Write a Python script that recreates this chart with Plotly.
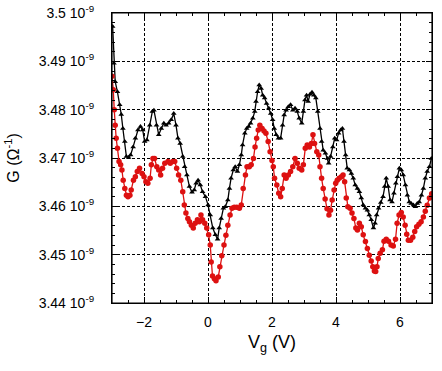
import plotly.graph_objects as go

v_black = [-2.98, -2.94, -2.90, -2.83, -2.76, -2.71, -2.66, -2.60, -2.55, -2.48,
           -2.42, -2.34, -2.27, -2.19, -2.11, -2.04, -1.98, -1.91, -1.82, -1.74,
           -1.69, -1.61, -1.54, -1.46, -1.38, -1.31, -1.23, -1.15, -1.07, -1.00,
           -0.94, -0.87, -0.79, -0.73, -0.66, -0.58, -0.50, -0.43, -0.37, -0.31,
           -0.24, -0.17, -0.08, 0.00, 0.07, 0.15, 0.23, 0.30, 0.35, 0.41,
           0.48, 0.54, 0.62, 0.67, 0.72, 0.79, 0.85, 0.92, 0.98, 1.04,
           1.08, 1.15, 1.21, 1.27, 1.33, 1.40, 1.46, 1.50, 1.55, 1.60,
           1.66, 1.71, 1.77, 1.83, 1.90, 1.96, 2.02, 2.07, 2.13, 2.20,
           2.27, 2.33, 2.38, 2.44, 2.51, 2.58, 2.65, 2.72, 2.79, 2.85,
           2.93, 2.98, 3.03, 3.08, 3.13, 3.19, 3.25, 3.31, 3.37, 3.43,
           3.50, 3.55, 3.60, 3.67, 3.73, 3.77, 3.83, 3.90, 3.96, 4.02,
           4.08, 4.15, 4.20, 4.25, 4.30, 4.35, 4.42, 4.48, 4.54, 4.60,
           4.67, 4.73, 4.79, 4.85, 4.92, 4.98, 5.04, 5.10, 5.17, 5.22,
           5.27, 5.33, 5.40, 5.47, 5.52, 5.57, 5.63, 5.69, 5.75, 5.81,
           5.87, 5.92, 5.98, 6.04, 6.10, 6.17, 6.23, 6.29, 6.35, 6.42,
           6.48, 6.54, 6.60, 6.67, 6.73, 6.79, 6.85, 6.92, 6.98]
g_black = [3.4972, 3.4896, 3.4858, 3.4837, 3.4810, 3.4790, 3.4761, 3.4734, 3.4703, 3.4701,
           3.4706, 3.4723, 3.4741, 3.4758, 3.4765, 3.4758, 3.4734, 3.4737, 3.4768, 3.4796,
           3.4799, 3.4768, 3.4748, 3.4761, 3.4772, 3.4768, 3.4772, 3.4779, 3.4792, 3.4768,
           3.4741, 3.4730, 3.4703, 3.4682, 3.4665, 3.4641, 3.4629, 3.4634, 3.4648, 3.4654,
           3.4644, 3.4630, 3.4620, 3.4603, 3.4582, 3.4555, 3.4541, 3.4532, 3.4555, 3.4575,
           3.4596, 3.4599, 3.4613, 3.4637, 3.4658, 3.4675, 3.4682, 3.4672, 3.4686, 3.4706,
           3.4727, 3.4751, 3.4761, 3.4765, 3.4772, 3.4782, 3.4796, 3.4817, 3.4837, 3.4851,
           3.4844, 3.4830, 3.4824, 3.4813, 3.4803, 3.4792, 3.4779, 3.4761, 3.4748, 3.4741,
           3.4741, 3.4768, 3.4789, 3.4799, 3.4806, 3.4810, 3.4799, 3.4803, 3.4796, 3.4782,
           3.4772, 3.4796, 3.4820, 3.4830, 3.4817, 3.4832, 3.4836, 3.4830, 3.4824, 3.4796,
           3.4761, 3.4734, 3.4716, 3.4710, 3.4699, 3.4689, 3.4703, 3.4723, 3.4741, 3.4737,
           3.4751, 3.4758, 3.4761, 3.4734, 3.4706, 3.4679, 3.4675, 3.4668, 3.4658, 3.4644,
           3.4637, 3.4630, 3.4617, 3.4603, 3.4596, 3.4592, 3.4582, 3.4572, 3.4555, 3.4565,
           3.4582, 3.4596, 3.4608, 3.4620, 3.4641, 3.4658, 3.4641, 3.4613, 3.4609, 3.4627,
           3.4648, 3.4661, 3.4679, 3.4675, 3.4665, 3.4644, 3.4623, 3.4609, 3.4606, 3.4603,
           3.4599, 3.4606, 3.4609, 3.4623, 3.4637, 3.4658, 3.4672, 3.4682, 3.4699]

v_red = [-3.00, -2.96, -2.93, -2.90, -2.87, -2.83, -2.78, -2.73, -2.69, -2.65,
         -2.60, -2.55, -2.50, -2.44, -2.40, -2.33, -2.27, -2.21, -2.14, -2.06,
         -2.00, -1.94, -1.88, -1.81, -1.77, -1.72, -1.67, -1.60, -1.54, -1.48,
         -1.42, -1.35, -1.25, -1.18, -1.10, -1.04, -0.98, -0.92, -0.85, -0.79,
         -0.74, -0.69, -0.63, -0.58, -0.52, -0.46, -0.40, -0.33, -0.27, -0.22,
         -0.17, -0.10, -0.04, 0.02, 0.07, 0.10, 0.14, 0.20, 0.25, 0.32,
         0.37, 0.43, 0.50, 0.56, 0.62, 0.69, 0.75, 0.82, 0.90, 0.98,
         1.04, 1.10, 1.17, 1.22, 1.29, 1.35, 1.42, 1.47, 1.52, 1.57,
         1.62, 1.69, 1.75, 1.81, 1.88, 1.94, 2.00, 2.04, 2.08, 2.15,
         2.21, 2.27, 2.32, 2.38, 2.44, 2.51, 2.58, 2.65, 2.72, 2.79,
         2.85, 2.93, 2.98, 3.04, 3.10, 3.17, 3.23, 3.28, 3.33, 3.40,
         3.46, 3.50, 3.55, 3.60, 3.66, 3.72, 3.78, 3.83, 3.88, 3.94,
         3.99, 4.04, 4.10, 4.17, 4.22, 4.27, 4.32, 4.37, 4.44, 4.50,
         4.56, 4.62, 4.67, 4.73, 4.79, 4.85, 4.92, 4.98, 5.04, 5.10,
         5.15, 5.20, 5.24, 5.28, 5.32, 5.38, 5.45, 5.50, 5.57, 5.64,
         5.72, 5.79, 5.86, 5.91, 5.97, 6.04, 6.10, 6.16, 6.21, 6.26,
         6.33, 6.40, 6.46, 6.52, 6.59, 6.66, 6.73, 6.79, 6.85, 6.92, 6.99]
g_red = [3.4869, 3.4841, 3.4800, 3.4768, 3.4741, 3.4720, 3.4693, 3.4686, 3.4675, 3.4654,
         3.4637, 3.4623, 3.4620, 3.4623, 3.4634, 3.4654, 3.4661, 3.4672, 3.4679, 3.4668,
         3.4661, 3.4651, 3.4648, 3.4658, 3.4686, 3.4699, 3.4699, 3.4682, 3.4675, 3.4665,
         3.4679, 3.4689, 3.4693, 3.4689, 3.4693, 3.4693, 3.4679, 3.4665, 3.4654, 3.4630,
         3.4603, 3.4586, 3.4575, 3.4568, 3.4561, 3.4555, 3.4565, 3.4572, 3.4568, 3.4582,
         3.4572, 3.4565, 3.4555, 3.4541, 3.4520, 3.4485, 3.4456, 3.4450, 3.4446, 3.4454,
         3.4475, 3.4498, 3.4520, 3.4540, 3.4561, 3.4582, 3.4596, 3.4598, 3.4598, 3.4596,
         3.4603, 3.4637, 3.4665, 3.4682, 3.4682, 3.4686, 3.4699, 3.4723, 3.4741, 3.4758,
         3.4768, 3.4761, 3.4756, 3.4751, 3.4734, 3.4713, 3.4695, 3.4682, 3.4658, 3.4644,
         3.4627, 3.4620, 3.4637, 3.4665, 3.4658, 3.4665, 3.4672, 3.4682, 3.4699, 3.4689,
         3.4679, 3.4675, 3.4686, 3.4720, 3.4727, 3.4723, 3.4730, 3.4748, 3.4730, 3.4713,
         3.4706, 3.4682, 3.4658, 3.4637, 3.4615, 3.4595, 3.4582, 3.4592, 3.4613, 3.4634,
         3.4648, 3.4654, 3.4658, 3.4661, 3.4665, 3.4651, 3.4617, 3.4599, 3.4596, 3.4586,
         3.4575, 3.4555, 3.4551, 3.4565, 3.4558, 3.4541, 3.4527, 3.4513, 3.4499, 3.4487,
         3.4475, 3.4466, 3.4465, 3.4475, 3.4492, 3.4503, 3.4510, 3.4528, 3.4532, 3.4528,
         3.4520, 3.4518, 3.4532, 3.4565, 3.4582, 3.4587, 3.4578, 3.4561, 3.4542, 3.4530,
         3.4530, 3.4536, 3.4548, 3.4558, 3.4563, 3.4568, 3.4578, 3.4590, 3.4602, 3.4617, 3.4626]

y_tick_vals = [3.44, 3.45, 3.46, 3.47, 3.48, 3.49, 3.50]
y_tick_text = ["3.44 10<sup>-9</sup>", "3.45 10<sup>-9</sup>", "3.46 10<sup>-9</sup>",
               "3.47 10<sup>-9</sup>", "3.48 10<sup>-9</sup>", "3.49 10<sup>-9</sup>",
               "3.5 10<sup>-9</sup>"]
x_tick_vals = [-2, 0, 2, 4, 6]

FONT = "Liberation Sans, Arial, sans-serif"

fig = go.Figure()
fig.add_trace(go.Scatter(
    x=v_black, y=g_black, mode="lines+markers",
    line=dict(color="black", width=1.3),
    marker=dict(symbol="triangle-up", size=5, color="black"),
    showlegend=False))
fig.add_trace(go.Scatter(
    x=v_red, y=g_red, mode="lines+markers",
    line=dict(color="#dd1111", width=1.3),
    marker=dict(symbol="circle", size=5.5, color="#dd1111"),
    showlegend=False))

axis_common = dict(
    showline=True, linecolor="black", linewidth=1.2, mirror="allticks",
    ticks="inside", ticklen=6, tickcolor="black", tickwidth=1,
    showgrid=True, gridcolor="black", gridwidth=1, griddash="3px,2px",
    zeroline=False, ticklabeloverflow="allow",
    tickfont=dict(family=FONT, size=14, color="black"),
)

fig.update_xaxes(
    range=[-3, 7], tickvals=x_tick_vals, ticklabelstandoff=6,
    minor=dict(ticks="inside", dtick=0.5, ticklen=3, tickcolor="black", showgrid=False),
    title=dict(text="V<sub>g</sub> (V)", font=dict(family=FONT, size=18, color="black"),
               standoff=6),
    **axis_common)
fig.update_yaxes(
    range=[3.44, 3.50], tickvals=y_tick_vals, ticktext=y_tick_text, ticklabelstandoff=14,
    minor=dict(ticks="inside", dtick=0.002, ticklen=3, tickcolor="black", showgrid=False),
    title=dict(text="G (Ω<sup>-1</sup>)", font=dict(family=FONT, size=16, color="black"),
               standoff=15),
    **axis_common)

fig.update_layout(
    width=442, height=371,
    margin=dict(l=112, r=10, t=13, b=68, autoexpand=False),
    paper_bgcolor="white", plot_bgcolor="white",
    font=dict(family=FONT, color="black"),
    shapes=[dict(type="rect", xref="paper", yref="paper", x0=0, x1=1, y0=0, y1=1,
                 line=dict(color="black", width=1.2), fillcolor="rgba(0,0,0,0)",
                 layer="above")],
)

fig.write_html(
    "out.html", config={"displayModeBar": False},
    post_script=("document.body.style.margin='0';"
                 "document.body.style.overflow='hidden';"
                 "document.documentElement.style.overflow='hidden';"))
